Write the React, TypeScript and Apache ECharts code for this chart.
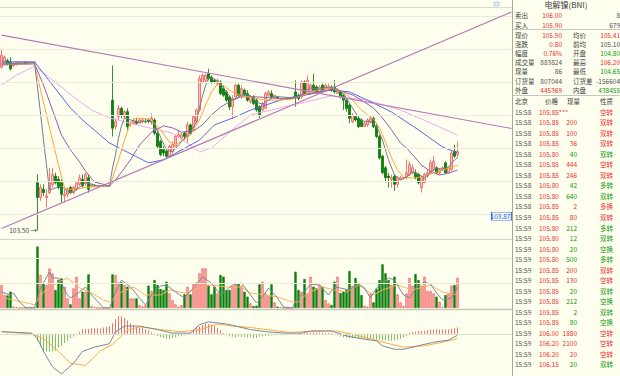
import React, { useEffect, useRef } from 'react';
import * as echarts from 'echarts';

const N_SLOTS = 171;
const categories: string[] = Array.from({ length: N_SLOTS }, (_, i) => String(i));

// [open, close, low, high]
const candles: number[][] = [
  [108.45,108.80,108.40,109.00],[108.55,108.75,108.50,108.80],[108.65,108.55,108.50,108.70],[108.60,108.40,108.35,108.75],
  [108.50,108.55,108.45,108.60],[108.55,108.60,108.50,108.60],[108.60,108.60,108.55,108.60],[108.60,108.60,108.60,108.60],
  [108.60,108.55,108.55,108.60],[108.55,108.60,108.55,108.60],[108.60,108.60,108.60,108.60],[108.60,108.60,108.55,108.60],
  [104.95,104.50,103.50,105.20],[104.50,104.80,104.40,104.90],[104.75,104.65,104.55,104.90],[104.50,104.55,104.20,104.75],
  [104.65,104.95,104.60,105.40],[104.90,105.20,104.80,105.40],[105.15,104.95,104.90,105.25],[105.05,104.80,104.75,105.15],
  [104.95,104.60,104.35,105.05],[104.55,104.60,104.35,104.75],[104.60,104.75,104.50,104.80],[104.80,104.65,104.60,104.85],
  [104.65,104.80,104.60,104.85],[104.75,104.95,104.70,105.00],[104.90,105.10,104.85,105.20],[105.05,104.85,104.80,105.20],
  [104.95,105.20,104.85,105.25],[105.10,104.75,104.65,105.20],[104.85,104.90,104.80,104.90],[104.85,104.85,104.85,104.90],
  [104.85,104.85,104.85,104.85],[104.85,104.85,104.85,104.85],[104.85,104.85,104.85,104.85],[104.85,104.85,104.85,104.85],
  [104.85,104.85,104.85,104.85],
  [107.45,106.60,106.35,108.50],[106.65,106.80,106.55,106.90],[106.95,107.20,106.85,107.30],[107.20,107.00,106.90,107.25],
  [106.95,107.10,106.90,107.15],[107.10,106.65,106.55,107.20],[106.75,106.75,106.65,106.80],[106.75,106.80,106.70,106.90],
  [106.80,106.75,106.70,106.90],[106.75,106.85,106.75,106.90],[106.80,106.85,106.75,106.90],[106.80,106.80,106.75,106.90],
  [106.85,106.80,106.75,106.90],[106.80,106.90,106.70,107.05],[106.85,106.45,106.40,106.90],[106.45,106.05,106.00,106.55],
  [106.20,105.80,105.75,106.25],[105.95,105.85,105.75,106.05],[105.90,105.75,105.70,105.95],[105.75,106.05,105.70,106.10],
  [105.90,106.10,105.80,106.20],[106.05,106.35,106.05,106.40],[106.35,106.40,106.30,106.55],[106.30,106.40,106.25,106.45],
  [106.45,106.35,106.25,106.50],[106.35,106.70,106.15,106.80],[106.70,106.45,106.40,106.75],[106.55,106.95,106.50,107.00],
  [106.80,107.15,106.75,107.20],[107.15,108.10,107.10,108.20],[108.00,108.20,107.95,108.25],[108.05,108.20,108.00,108.25],
  [108.25,108.10,108.05,108.40],[108.15,108.00,107.95,108.20],[108.05,108.00,107.95,108.10],[107.95,108.05,107.90,108.10],
  [108.00,107.65,107.60,108.05],[107.80,107.60,107.55,107.90],[107.70,107.45,107.40,107.75],[107.55,107.25,107.15,107.60],
  [107.25,107.50,106.90,107.60],[107.55,107.90,107.50,107.95],[107.90,107.60,107.55,107.95],[107.60,107.80,107.50,107.90],
  [107.75,107.60,107.55,107.80],[107.65,107.45,107.40,107.75],[107.40,107.55,107.35,107.60],[107.55,107.35,107.30,107.60],
  [107.45,107.15,107.10,107.50],[107.25,107.00,106.90,107.30],[107.15,107.35,107.10,107.40],[107.20,107.65,107.20,107.70],
  [107.60,107.70,107.55,107.75],[107.65,107.55,107.50,107.75],[107.55,107.60,107.50,107.60],[107.55,107.50,107.50,107.55],
  [107.50,107.50,107.50,107.50],[107.50,107.50,107.50,107.50],[107.50,107.50,107.50,107.50],[107.50,107.50,107.50,107.50],
  [107.50,107.50,107.50,107.50],
  [107.70,107.55,107.25,108.05],[107.60,107.50,107.45,107.65],[107.55,108.00,107.50,108.05],[108.00,107.65,107.60,108.05],
  [107.65,108.05,107.65,108.20],[107.75,107.90,107.70,107.95],[107.90,107.75,107.70,108.25],[107.85,107.70,107.65,107.90],
  [107.70,107.85,107.65,107.90],[107.90,107.75,107.75,107.95],[107.75,107.90,107.75,107.95],[107.80,107.85,107.75,107.95],
  [107.85,107.75,107.70,107.90],[107.85,107.70,107.65,108.05],[107.65,107.75,107.65,107.80],[107.70,107.55,107.50,107.75],
  [107.60,107.45,107.15,107.65],[107.45,107.20,107.10,107.50],[107.30,106.90,106.75,107.35],[106.80,107.00,106.75,107.05],
  [106.95,106.85,106.80,107.00],[106.90,106.65,106.60,106.95],[106.85,106.65,106.65,106.90],[106.65,106.75,106.65,106.80],
  [106.70,106.85,106.65,106.90],[106.80,106.90,106.75,106.95],[106.90,106.65,106.60,106.95],[106.65,106.35,106.30,106.75],
  [106.35,105.70,105.65,106.40],[105.75,105.25,105.20,105.80],[105.40,105.10,104.95,105.45],[105.15,105.10,104.80,105.25],
  [105.05,105.10,104.80,105.20],[105.15,104.90,104.70,105.20],[104.90,105.10,104.80,105.15],[105.05,105.10,105.05,105.15],
  [105.10,105.10,105.05,105.10],[105.10,105.25,105.05,105.65],[105.20,105.50,105.15,105.60],[105.25,105.40,105.20,105.50],
  [105.25,105.10,105.05,105.35],[105.20,104.95,104.90,105.25],[104.80,105.10,104.65,105.15],[104.95,105.20,104.95,105.25],
  [105.15,105.25,105.10,105.35],[105.25,105.55,105.20,105.65],[105.35,105.60,105.30,105.75],[105.40,105.25,105.20,105.45],
  [105.25,105.35,105.20,105.35],[105.35,105.40,105.30,105.45],[105.55,105.25,105.25,105.60],[105.25,105.40,105.25,105.40],
  [105.35,105.85,105.30,105.90],[105.90,105.75,105.70,106.10],[105.80,105.90,105.70,106.20],
];

const volumes: number[] = [
  460,260,250,327,30,15,5,5,5,5,5,5,
  1230,660,490,460,793,693,360,560,593,427,193,73,393,627,193,327,327,673,40,20,0,0,0,0,0,
  673,660,513,513,460,427,193,193,193,60,30,60,447,340,560,460,380,360,527,293,
  160,73,27,60,273,427,273,480,513,693,793,793,460,273,427,293,660,627,360,360,
  447,473,493,447,327,227,93,40,47,473,527,293,260,473,113,27,20,0,0,0,0,
  727,360,327,580,293,627,427,393,460,427,160,93,60,527,627,300,327,360,740,447,
  600,493,260,47,27,293,113,380,560,873,693,560,460,627,273,113,40,293,607,447,
  680,560,447,627,340,340,293,227,127,20,260,293,447,460,607,
];

// moving averages: [slot, price]
const ma5: number[][] = [[0,108.55],[11,108.58],[12,107.82],[13,107.06],[14,106.24],[15,105.48],[16,104.73],[18,104.79],[20,104.85],[22,104.67],[24,104.67],[26,104.82],[28,104.94],[30,104.91],[32,104.85],[36,104.85],[37,105.39],[38,105.79],[39,106.30],[40,106.67],[41,106.91],[43,106.85],[46,106.79],[49,106.82],[51,106.73],[53,106.33],[55,105.94],[57,105.88],[59,106.09],[61,106.30],[63,106.48],[65,106.79],[66,107.21],[67,107.58],[68,107.88],[69,108.12],[71,108.09],[73,107.94],[75,107.70],[77,107.45],[79,107.55],[81,107.64],[83,107.58],[85,107.39],[87,107.33],[89,107.45],[91,107.55],[93,107.55],[97,107.52],[99,107.52],[101,107.70],[103,107.82],[106,107.79],[109,107.85],[112,107.79],[114,107.64],[116,107.36],[118,107.06],[120,106.82],[123,106.79],[125,106.67],[127,106.24],[129,105.64],[131,105.18],[133,105.03],[135,105.12],[137,105.27],[139,105.21],[141,105.09],[143,105.27],[145,105.39],[147,105.36],[149,105.42],[151,105.64],[152,105.70]];
const ma10: number[][] = [[0,108.55],[11,108.55],[13,107.76],[15,107.00],[17,106.24],[19,105.48],[21,104.79],[24,104.73],[27,104.79],[30,104.82],[33,104.85],[36,104.85],[37,105.09],[39,105.64],[41,106.24],[43,106.79],[45,106.91],[48,106.88],[50,106.85],[53,106.55],[56,106.18],[58,106.09],[60,106.21],[63,106.39],[66,106.85],[68,107.30],[70,107.70],[72,107.94],[74,107.88],[77,107.70],[80,107.58],[84,107.52],[88,107.45],[92,107.45],[97,107.48],[100,107.58],[103,107.70],[107,107.79],[110,107.82],[113,107.73],[116,107.55],[119,107.24],[122,107.00],[124,106.88],[126,106.61],[128,106.18],[130,105.70],[132,105.33],[134,105.12],[137,105.09],[140,105.12],[143,105.21],[146,105.30],[149,105.39],[152,105.48]];
const ma20: number[][] = [[0,108.52],[11,108.55],[14,107.91],[17,107.15],[20,106.39],[23,105.94],[26,105.58],[28,105.30],[31,104.97],[36,104.85],[38,105.03],[40,105.27],[43,105.64],[46,106.09],[50,106.48],[54,106.67],[57,106.61],[60,106.48],[64,106.52],[67,106.70],[70,107.00],[73,107.24],[77,107.45],[80,107.55],[85,107.55],[90,107.52],[95,107.48],[100,107.58],[105,107.67],[110,107.76],[114,107.70],[117,107.61],[120,107.45],[124,107.21],[127,106.91],[130,106.55],[133,106.15],[135,106.00],[138,105.70],[140,105.48],[143,105.30],[146,105.18],[149,105.24],[152,105.33]];
const ma30: number[][] = [[0,108.61],[11,108.61],[23,107.21],[27,106.85],[36,106.15],[49,105.55],[54,105.64],[66,106.24],[71,106.70],[78,106.94],[83,107.15],[93,107.45],[100,107.61],[110,107.76],[116,107.70],[122,107.45],[130,107.09],[139,106.55],[147,106.03],[152,105.85]];
const ma60: number[][] = [[0,107.91],[5,108.21],[11,108.48],[17,108.06],[24,107.55],[30,107.15],[36,106.91],[45,106.70],[52,106.55],[57,106.45],[62,106.15],[66,105.88],[70,106.00],[76,106.48],[83,107.00],[94,107.24],[110,107.58],[122,107.45],[133,107.15],[143,106.76],[152,106.39]];

// trend lines [slot, price]
const trendDown: number[][] = [[0,109.42],[170,106.59]];
const trendUp: number[][] = [[0,103.56],[170,110.12]];

const volMa5: number[][] = [[0,320],[3,260],[4,300],[6,120],[8,10],[11,5],[13,400],[16,720],[17,600],[19,600],[22,260],[23,200],[26,320],[28,420],[30,260],[34,10],[36,0],[38,320],[40,560],[43,420],[46,200],[48,60],[50,260],[53,440],[55,460],[58,320],[61,200],[64,400],[67,620],[70,500],[73,260],[77,460],[80,500],[83,260],[85,100],[87,220],[89,400],[92,200],[94,20],[97,0],[98,145],[101,320],[103,480],[106,460],[109,260],[111,420],[113,400],[116,360],[119,480],[121,400],[123,200],[125,400],[129,600],[131,560],[134,260],[136,200],[139,460],[141,520],[143,480],[145,300],[147,160],[150,200],[152,420]];
const volMa10: number[][] = [[0,220],[4,160],[10,80],[11,60],[14,320],[19,520],[22,600],[26,400],[30,300],[34,160],[36,120],[40,320],[44,420],[48,260],[53,260],[56,360],[61,300],[66,400],[70,460],[75,420],[80,420],[83,300],[88,260],[92,220],[97,120],[99,120],[102,300],[107,420],[111,360],[115,320],[119,460],[124,260],[127,360],[132,460],[137,360],[143,460],[147,320],[152,260]];

const macdHist: number[] = [
  0,0,-0.01,-0.01,-0.02,-0.02,-0.02,-0.02,-0.02,-0.02,-0.02,-0.02,
  -0.10,-0.18,-0.25,-0.25,-0.25,-0.25,-0.24,-0.20,-0.17,-0.13,-0.10,-0.06,-0.04,-0.01,
  0.03,0.06,0.07,0.07,0.08,0.08,0.08,0.08,0.09,0.10,0.11,
  0.15,0.21,0.25,0.25,0.23,0.19,0.15,0.12,0.10,0.09,0.08,0.06,0.05,0.02,
  -0.01,-0.03,-0.05,-0.06,-0.07,-0.07,-0.06,-0.05,-0.04,-0.03,-0.02,-0.01,
  0.02,0.05,0.08,0.10,0.12,0.14,0.14,0.13,0.11,0.08,0.05,0.01,
  -0.02,-0.04,-0.04,-0.05,-0.04,-0.05,-0.05,-0.05,-0.05,-0.06,-0.06,-0.04,-0.04,-0.03,-0.03,-0.02,
  -0.02,-0.02,-0.02,-0.02,-0.02,-0.01,-0.01,
  -0.01,
  0.01,0.01,0.01,0.02,0.02,0.02,0.02,0.02,0.02,0.01,0.01,0.01,
  0,
  -0.02,-0.04,-0.05,-0.05,-0.06,-0.06,-0.06,-0.07,-0.07,-0.07,-0.07,-0.07,-0.07,-0.08,-0.08,-0.09,-0.09,-0.10,-0.10,-0.09,-0.08,-0.07,-0.05,-0.03,
  0.02,0.03,0.03,0.04,0.04,0.04,0.05,0.06,0.06,0.06,0.06,0.06,0.06,0.06,0.07,0.08,0.09,
];
const macdDif: number[][] = [[0,0.03],[10,0.01],[12,-0.07],[14,-0.25],[17,-0.47],[20,-0.57],[24,-0.42],[27,-0.25],[31,-0.19],[36,-0.14],[38,0.03],[41,0.11],[46,0.11],[52,0.06],[57,0.01],[63,0.01],[66,0.13],[69,0.17],[75,0.14],[83,0.06],[88,0.03],[94,0.01],[100,0.01],[103,0.04],[110,0.04],[115,-0.03],[120,-0.07],[125,-0.10],[127,-0.17],[131,-0.22],[134,-0.22],[139,-0.17],[144,-0.12],[149,-0.09],[152,-0.02]];
const macdDea: number[][] = [[0,0.03],[10,0.00],[14,-0.07],[19,-0.25],[23,-0.42],[28,-0.45],[33,-0.24],[37,-0.15],[42,0.05],[46,0.10],[53,0.06],[60,0.03],[66,0.06],[72,0.14],[77,0.11],[83,0.09],[90,0.05],[96,0.02],[105,0.04],[112,0.04],[117,-0.01],[123,-0.07],[130,-0.15],[134,-0.19],[141,-0.17],[147,-0.12],[152,-0.07]];

const priceGrid: number[] = [104, 105, 106, 107, 108, 109, 110];
const volGrid: number[] = [500, 1000];
const lowLabel = { slot: 12, price: 103.5, text: '103.50' };
const cursorLabel = { slot: 167, price: 103.93, text: '103.87' };

// right panel
const title = '电解镍(BNI)';
const infoLabel1 = ['卖出','买入','现价','涨跌','幅度','成交量','现量','订货量','外盘'];
const infoValue1 = ['106.00','105.90','105.90','0.80','0.76%','883824','86','807044','445369'];
const infoTone1 = ['r','r','r','r','r','n','n','n','r'];
const infoLabel2 = ['','','均价','前均','开盘','最高','最低','订货差','内盘'];
const infoValue2 = ['8','679','105.41','105.10','104.80','106.20','104.65','-156604','438455'];
const infoTone2 = ['n','n','r','n','g','r','g','n','g'];
const tradeHeader = ['北京','价格','现量','性质'];
const tradeTime = ['15:58','15:58','15:58','15:58','15:58','15:58','15:58','15:58','15:58','15:58','15:59','15:59','15:59','15:59','15:59','15:59','15:59','15:59','15:59','15:59','15:59','15:59','15:59','15:59','15:59'];
const tradePrice = ['105.85','105.85','105.85','105.85','105.80','105.85','105.85','105.80','105.80','105.85','105.85','105.80','105.80','105.80','105.80','105.85','105.85','105.85','105.85','105.85','105.85','106.00','106.20','106.20','106.15'];
const tradeMark = ['***','','','','','','','','','','','','','','','','','','','','','','','',''];
const tradeQty = ['','200','100','36','40','444','246','42','640','2','80','212','12','20','500','200','130','20','212','2','80','1880','2100','20','20'];
const tradeNature = ['空转','双转','双转','双转','双转','空转','双转','多转','双转','多换','双转','多转','双转','空换','多转','双转','空转','双转','空换','双转','空换','空转','空转','空转','双转'];
const tradeUp = [1,1,1,1,0,1,1,0,0,1,1,0,0,0,0,1,1,0,0,0,0,1,1,1,0];

const FONT = '"Noto Sans CJK SC", "Noto Sans", sans-serif';
const RED = '#F02828';
const GREEN = '#0A960A';
const GRAY = '#505050';
const toneColor = (t: string) => (t === 'r' ? RED : t === 'g' ? GREEN : GRAY);

const txt = (x: number, y: number, text: string, fill: string, align = 'left', size = 6.5) => ({
  type: 'text', x, y, silent: true, z: 10,
  style: { text, fill, font: `${size}px ${FONT}`, textAlign: align, align, textVerticalAlign: 'middle', verticalAlign: 'middle' },
});
const ln = (x1: number, y1: number, x2: number, y2: number, stroke: string, w = 1) => ({
  type: 'line', silent: true, z: 9, shape: { x1, y1, x2, y2 }, style: { stroke, lineWidth: w },
});

function buildGraphic() {
  const els: any[] = [];
  els.push(ln(0, 7.5, 512, 7.5, '#DCDCCB'));
  els.push(ln(0, 239.5, 512, 239.5, '#D6D6C4'));
  els.push(ln(0, 309.5, 512, 309.5, '#C8C8B6', 1.5));
  els.push(ln(512.5, 0, 512.5, 376, '#A8A8A0'));
  els.push(ln(513, 29.5, 620, 29.5, '#C8C8C0'));
  els.push(ln(513, 95.5, 620, 95.5, '#C8C8C0'));
  els.push(txt(566, 4.5, title, '#404040', 'center', 8));
  const rowY = [14.5, 24.5, 34.5, 43.5, 53, 62, 71, 80.5, 89.5];
  infoLabel1.forEach((l, k) => {
    els.push(txt(515, rowY[k], l, '#404040'));
    els.push(txt(562, rowY[k], infoValue1[k], toneColor(infoTone1[k]), 'right'));
    if (infoLabel2[k]) els.push(txt(573, rowY[k], infoLabel2[k], '#404040'));
    els.push(txt(620, rowY[k], infoValue2[k], toneColor(infoTone2[k]), 'right'));
  });
  els.push(txt(515, 101, tradeHeader[0], '#404040'));
  els.push(txt(545, 101, tradeHeader[1], '#404040'));
  els.push(txt(567, 101, tradeHeader[2], '#404040'));
  els.push(txt(600, 101, tradeHeader[3], '#404040'));
  tradeTime.forEach((t, k) => {
    const y = 111.7 + 10.53 * k;
    const c = tradeUp[k] ? RED : GREEN;
    els.push(txt(515, y, t, GRAY));
    els.push(txt(539, y, tradePrice[k] + tradeMark[k], RED));
    if (tradeQty[k]) els.push(txt(577, y, tradeQty[k], c, 'right'));
    els.push(txt(600, y, tradeNature[k], c));
  });
  els.push({ type: 'rect', silent: true, z: 9, shape: { x: 494, y: 2, width: 5, height: 4 }, style: { fill: '#E4EEF8', stroke: '#A0B8D8', lineWidth: 0.6 } });
  return els;
}

const upFill = '#FFC2C2';
const upBorder = '#F05A5A';
const downFill = '#0A8A0A';
const downBorder = '#067006';

function buildOption() {
  const volData = volumes.map((v, i) => {
    const up = candles[i][1] >= candles[i][0];
    return { value: v, itemStyle: up ? { color: upFill, borderColor: upBorder, borderWidth: 0.8 } : { color: downFill, borderColor: downBorder, borderWidth: 0.6 } };
  });
  const histData = macdHist.map((v) => ({ value: v, itemStyle: { color: v >= 0 ? '#F07070' : '#7CC060' } }));
  const maLine = (data: number[][], color: string, x = 0, w = 1, z = 4) => ({
    type: 'line', xAxisIndex: x, yAxisIndex: x, data, symbol: 'none', silent: true, z,
    lineStyle: { color, width: w }, itemStyle: { color },
  });
  const gridSeries = (x: number, values: number[], color: string, anchor: number) => ({
    type: 'line', xAxisIndex: x, yAxisIndex: x, data: [[0, anchor]], symbol: 'none', silent: true, z: 1,
    lineStyle: { opacity: 0 },
    markLine: { silent: true, symbol: ['none', 'none'], label: { show: false }, lineStyle: { color, width: 1, type: 'solid' }, data: values.map((v) => ({ yAxis: v })) },
  });
  return {
    animation: false,
    backgroundColor: '#FFFFF0',
    grid: [
      { left: 0, top: 7, width: 513, height: 231 },
      { left: 0, top: 240, width: 513, height: 68 },
      { left: 0, top: 312, width: 513, height: 91 },
    ],
    xAxis: [0, 1, 2].map((g) => ({ type: 'category', gridIndex: g, data: categories, show: false, boundaryGap: true })),
    yAxis: [
      { type: 'value', gridIndex: 0, min: 103.2727, max: 110.2727, show: false, scale: true },
      { type: 'value', gridIndex: 1, min: 0, max: 1360, show: false },
      { type: 'value', gridIndex: 2, min: -0.6, max: 0.31, show: false },
    ],
    graphic: buildGraphic(),
    series: [
      gridSeries(0, priceGrid, '#ECECDA', 104),
      {
        type: 'candlestick', xAxisIndex: 0, yAxisIndex: 0, data: candles, barWidth: 2.4, z: 3, silent: true,
        itemStyle: { color: upFill, color0: downFill, borderColor: upBorder, borderColor0: downBorder, borderWidth: 0.8 },
        markPoint: {
          silent: true,
          data: [
            {
              coord: [lowLabel.slot, lowLabel.price], symbol: 'rect', symbolSize: 1, itemStyle: { color: 'rgba(0,0,0,0)' },
              label: { show: true, position: 'left', distance: 0, formatter: lowLabel.text + ' →', color: '#404040', fontSize: 6.5, fontFamily: FONT },
            },
            {
              coord: [cursorLabel.slot, cursorLabel.price], symbol: 'rect', symbolSize: [20, 8], symbolOffset: [-1, 0],
              itemStyle: { color: '#F4F8FF', borderColor: '#4A78D8', borderWidth: 0.8 },
              label: { show: true, position: 'inside', offset: [-1, 0], formatter: cursorLabel.text, color: '#2A56C0', fontSize: 6.5, fontFamily: FONT },
            },
          ],
        },
      },
      maLine(ma60, '#F2A6F0'),
      maLine(ma30, '#5A66E6'),
      maLine(ma20, '#9060A8'),
      maLine(ma10, '#FFA438'),
      maLine(ma5, '#6E7E90'),
      maLine(trendDown, '#B878B8', 0, 1.2, 5),
      maLine(trendUp, '#B878B8', 0, 1.2, 5),
      gridSeries(1, volGrid, '#ECECDA', 0),
      { type: 'bar', xAxisIndex: 1, yAxisIndex: 1, data: volData, barWidth: 2.3, silent: true, z: 3 },
      maLine(volMa10, '#FFB060', 1),
      maLine(volMa5, '#7A8898', 1),
      gridSeries(2, [0], '#E0E0CE', 0),
      { type: 'bar', xAxisIndex: 2, yAxisIndex: 2, data: histData, barWidth: 1, silent: true, z: 3 },
      maLine(macdDea, '#FFA848', 2),
      maLine(macdDif, '#7A8898', 2),
    ],
  };
}

export default function App() {
  const ref = useRef<HTMLDivElement>(null);
  useEffect(() => {
    document.body.style.margin = '0';
    const chart = echarts.init(ref.current as HTMLDivElement, null, { renderer: 'svg' });
    chart.setOption(buildOption() as any);
    return () => chart.dispose();
  }, []);
  return <div ref={ref} style={{ width: 620, height: 376, overflow: 'hidden' }} />;
}
